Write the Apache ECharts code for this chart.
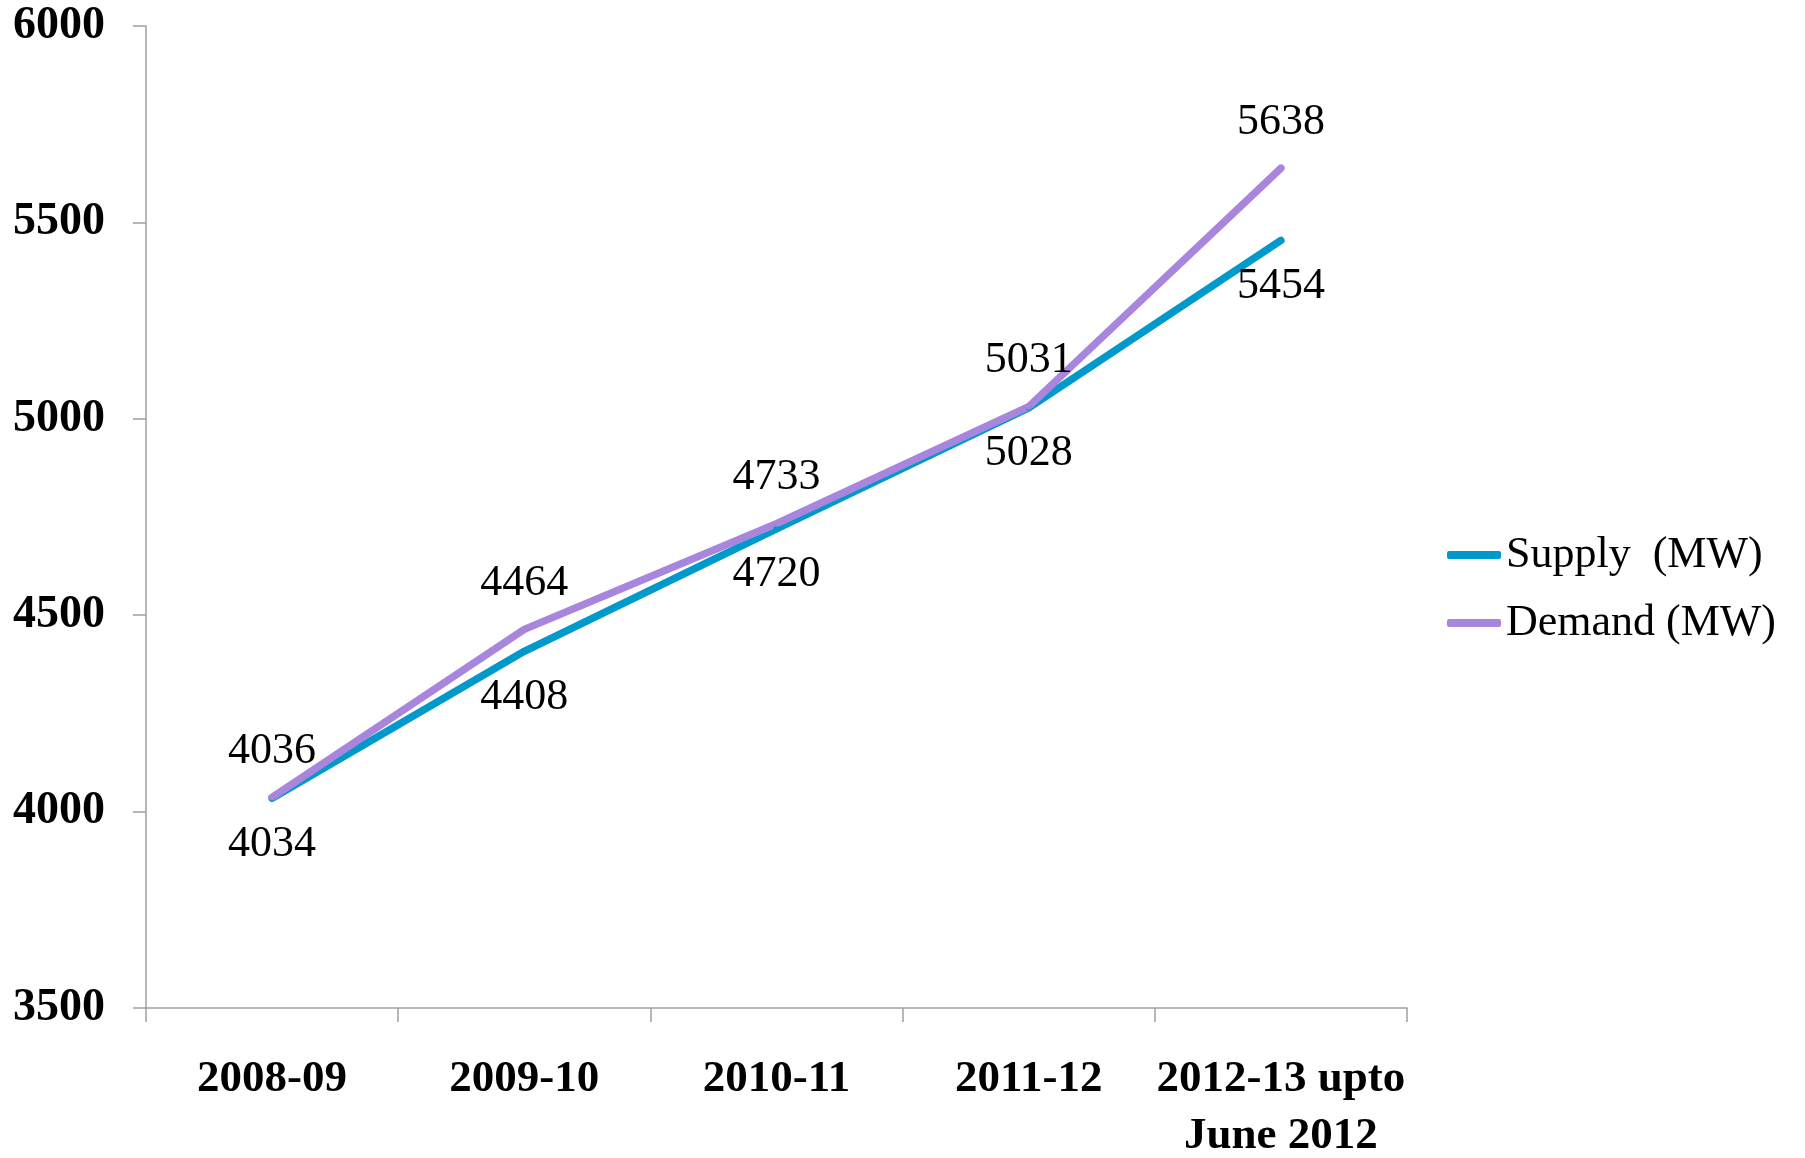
<!DOCTYPE html>
<html>
<head>
<meta charset="utf-8">
<script src="https://cdn.jsdelivr.net/npm/echarts@6/dist/echarts.min.js"></script>
<style>
  html, body { margin: 0; padding: 0; background: #fff; }
  #chart { width: 1805px; height: 1158px; }
</style>
</head>
<body>
<div id="chart"></div>
<script>
const years = ['2008-09', '2009-10', '2010-11', '2011-12', '2012-13 upto\nJune 2012'];
const supply = [4034, 4408, 4720, 5028, 5454];
const demand = [4036, 4464, 4733, 5031, 5638];
const yTicks = [3500, 4000, 4500, 5000, 5500, 6000];

const chart = echarts.init(document.getElementById('chart'));
const font = '"Liberation Serif", "DejaVu Serif", serif';

const option = {
  animation: false,
  textStyle: { fontFamily: font, color: '#000' },
  // 坐标
  grid: { left: 146, right: 398, top: 26, bottom: 150, outerBoundsMode: 'none', containLabel: false },
  legend: {
    orient: 'vertical',
    left: 1442,
    top: 528,
    itemWidth: 54,
    itemHeight: 8,
    itemGap: 24,
    icon: 'roundRect',
    textStyle: { fontFamily: font, fontSize: 44, color: '#000' },
    data: [
      { name: 'Supply  (MW)', itemStyle: { color: '#0099cc' } },
      { name: 'Demand (MW)', itemStyle: { color: '#a886dd' } }
    ]
  },
  xAxis: {
    type: 'category',
    data: years,
    boundaryGap: true,
    axisLine: { lineStyle: { color: '#a0a0a0', width: 1.5 } },
    axisTick: { show: true, length: 14, alignWithLabel: false, lineStyle: { color: '#a0a0a0', width: 1.5 } },
    axisLabel: {
      interval: 0,
      margin: 43,
      fontFamily: font,
      fontSize: 45,
      fontWeight: 'bold',
      lineHeight: 57,
      color: '#000'
    }
  },
  yAxis: {
    type: 'value',
    min: yTicks[0],
    max: yTicks[yTicks.length - 1],
    interval: 500,
    axisLine: { show: true, lineStyle: { color: '#a0a0a0', width: 1.5 } },
    axisTick: { show: true, length: 13, lineStyle: { color: '#a0a0a0', width: 1.5 } },
    splitLine: { show: false },
    axisLabel: {
      margin: 41,
      fontFamily: font,
      fontSize: 46,
      fontWeight: 'bold',
      color: '#000',
      formatter: (v) => String(v)
    }
  },
  series: [
    {
      name: 'Supply  (MW)',
      type: 'line',
      data: supply,
      symbol: 'circle',
      symbolSize: 6,
      itemStyle: { color: '#0099cc' },
      lineStyle: { color: '#0099cc', width: 7.5, cap: 'round', join: 'round' },
      label: {
        show: true,
        position: 'bottom',
        distance: 21,
        fontFamily: font,
        fontSize: 44,
        color: '#000'
      }
    },
    {
      name: 'Demand (MW)',
      type: 'line',
      data: demand,
      symbol: 'circle',
      symbolSize: 6,
      itemStyle: { color: '#a886dd' },
      lineStyle: { color: '#a886dd', width: 7.5, cap: 'round', join: 'round' },
      label: {
        show: true,
        position: 'top',
        distance: 21,
        fontFamily: font,
        fontSize: 44,
        color: '#000'
      }
    }
  ]
};

chart.setOption(option);
window.addEventListener('resize', chart.resize);
</script>
</body>
</html>
